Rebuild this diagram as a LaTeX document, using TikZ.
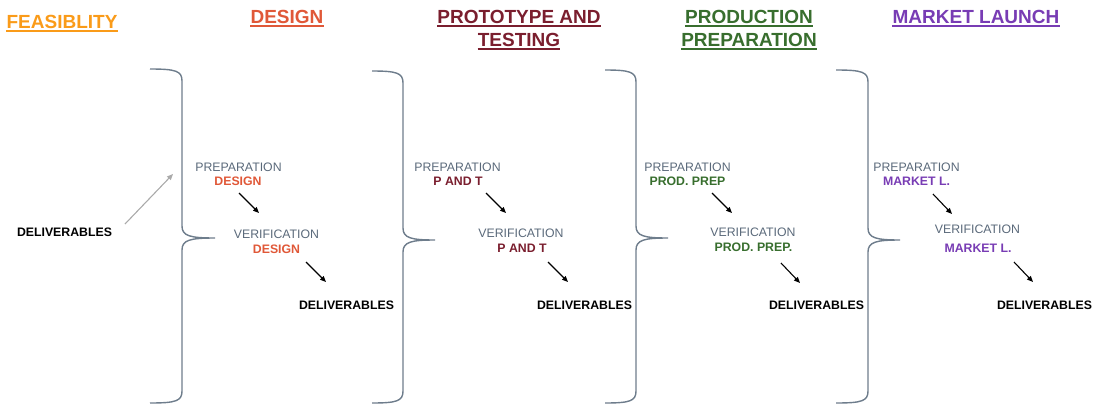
\documentclass[tikz,border=0pt]{standalone}
\usepackage{fontspec}
\setmainfont{Liberation Sans}
\usetikzlibrary{arrows.meta}
\definecolor{cFeas}{RGB}{250,155,25}
\definecolor{cDes}{RGB}{224,88,56}
\definecolor{cPT}{RGB}{122,30,46}
\definecolor{cPP}{RGB}{56,110,46}
\definecolor{cML}{RGB}{120,60,180}
\definecolor{cGray}{RGB}{90,105,122}
\definecolor{cBrace}{RGB}{110,125,140}
\definecolor{cArrowGray}{RGB}{170,170,170}
\tikzset{
  title/.style={font=\fontsize{19}{22}\selectfont\bfseries, inner sep=0pt},
  ulline/.style={line width=2pt},
  lab/.style={font=\fontsize{12.3}{14}\selectfont, text=cGray, inner sep=0pt},
  sub/.style={font=\fontsize{12.3}{14}\selectfont\bfseries, inner sep=0pt},
  deliv/.style={font=\fontsize{12.3}{14}\selectfont\bfseries, text=black, inner sep=0pt},
  flow/.style={-{Triangle[length=6pt,width=5pt]}, line width=1.1pt, black},
  grayflow/.style={-{Triangle[length=6pt,width=5pt]}, line width=1.1pt, cArrowGray},
  bracestyle/.style={draw=cBrace, line width=1.4pt}
}
\newcommand\phasebrace[6]{%
  \draw[bracestyle] (#1,#4) .. controls (#2-6,#4) and (#2,#4+2) .. (#2,#4+12)
    -- (#2,#5-12) .. controls (#2,#5-2) and (#2+8,#5) .. (#3,#5)
    .. controls (#2+8,#5) and (#2,#5+2) .. (#2,#5+12)
    -- (#2,#6-12) .. controls (#2,#6-2) and (#2-6,#6) .. (#1,#6);
}
\newcommand\ulnode[2]{\draw[ulline,#2] ([yshift=-2.6pt]#1.base west) -- ([yshift=-2.6pt]#1.base east);}
\begin{document}
\begin{tikzpicture}[x=1pt,y=-1pt]
\useasboundingbox (0,0) rectangle (1096,405);

% titles
\node[title,text=cFeas] (t1) at (62,22) {FEASIBLITY}; \ulnode{t1}{cFeas}
\node[title,text=cDes] (t2) at (287,17) {DESIGN}; \ulnode{t2}{cDes}
\node[title,text=cPT] (t3a) at (519,17) {PROTOTYPE AND}; \ulnode{t3a}{cPT}
\node[title,text=cPT] (t3b) at (519,40) {TESTING}; \ulnode{t3b}{cPT}
\node[title,text=cPP] (t4a) at (749,17) {PRODUCTION}; \ulnode{t4a}{cPP}
\node[title,text=cPP] (t4b) at (749,40) {PREPARATION}; \ulnode{t4b}{cPP}
\node[title,text=cML] (t5) at (976,17) {MARKET LAUNCH}; \ulnode{t5}{cML}

% braces
\phasebrace{150}{182}{215}{69}{238}{403}
\phasebrace{372}{403}{435}{71}{240}{403}
\phasebrace{605}{636}{668}{70}{238}{403}
\phasebrace{836}{868}{900}{70}{240}{403}

% feasibility
\node[deliv] (d0) at (64.5,232.5) {DELIVERABLES};
\coordinate (g0s) at (125,224);
\coordinate (g0e) at (173,174);
\draw[grayflow] (g0s) -- (g0e);

% design
\node[lab] (p1) at (238.5,167.5) {PREPARATION};
\node[sub,text=cDes] (p1s) at (238,181.5) {DESIGN};
\node[lab] (v1) at (276.5,234.5) {VERIFICATION};
\node[sub,text=cDes] (v1s) at (276.5,249) {DESIGN};
\node[deliv] (d1) at (346.5,305) {DELIVERABLES};
\coordinate (a1s) at (239,193); \coordinate (a1e) at (259,213);
\coordinate (b1s) at (306,262); \coordinate (b1e) at (326,282);
\draw[flow] (a1s) -- (a1e);
\draw[flow] (b1s) -- (b1e);

% prototype and testing
\node[lab] (p2) at (457.5,167.5) {PREPARATION};
\node[sub,text=cPT] (p2s) at (458,181.5) {P AND T};
\node[lab] (v2) at (521,233.5) {VERIFICATION};
\node[sub,text=cPT] (v2s) at (522,248) {P AND T};
\node[deliv] (d2) at (584.5,305) {DELIVERABLES};
\coordinate (a2s) at (486,193); \coordinate (a2e) at (506,213);
\coordinate (b2s) at (548,262); \coordinate (b2e) at (568,282);
\draw[flow] (a2s) -- (a2e);
\draw[flow] (b2s) -- (b2e);

% production preparation
\node[lab] (p3) at (687.5,167) {PREPARATION};
\node[sub,text=cPP] (p3s) at (687.5,181) {PROD. PREP};
\node[lab] (v3) at (753,232.5) {VERIFICATION};
\node[sub,text=cPP] (v3s) at (753.5,247.5) {PROD. PREP.};
\node[deliv] (d3) at (816.5,305) {DELIVERABLES};
\coordinate (a3s) at (712,193); \coordinate (a3e) at (732,213);
\coordinate (b3s) at (781,263); \coordinate (b3e) at (800,283);
\draw[flow] (a3s) -- (a3e);
\draw[flow] (b3s) -- (b3e);

% market launch
\node[lab] (p4) at (916.5,167) {PREPARATION};
\node[sub,text=cML] (p4s) at (916.5,181.5) {MARKET L.};
\node[lab] (v4) at (977.5,229.5) {VERIFICATION};
\node[sub,text=cML] (v4s) at (978,248.5) {MARKET L.};
\node[deliv] (d4) at (1044.5,305) {DELIVERABLES};
\coordinate (a4s) at (933,194); \coordinate (a4e) at (952,214);
\coordinate (b4s) at (1014,262); \coordinate (b4e) at (1033,282);
\draw[flow] (a4s) -- (a4e);
\draw[flow] (b4s) -- (b4e);
\end{tikzpicture}
\end{document}
